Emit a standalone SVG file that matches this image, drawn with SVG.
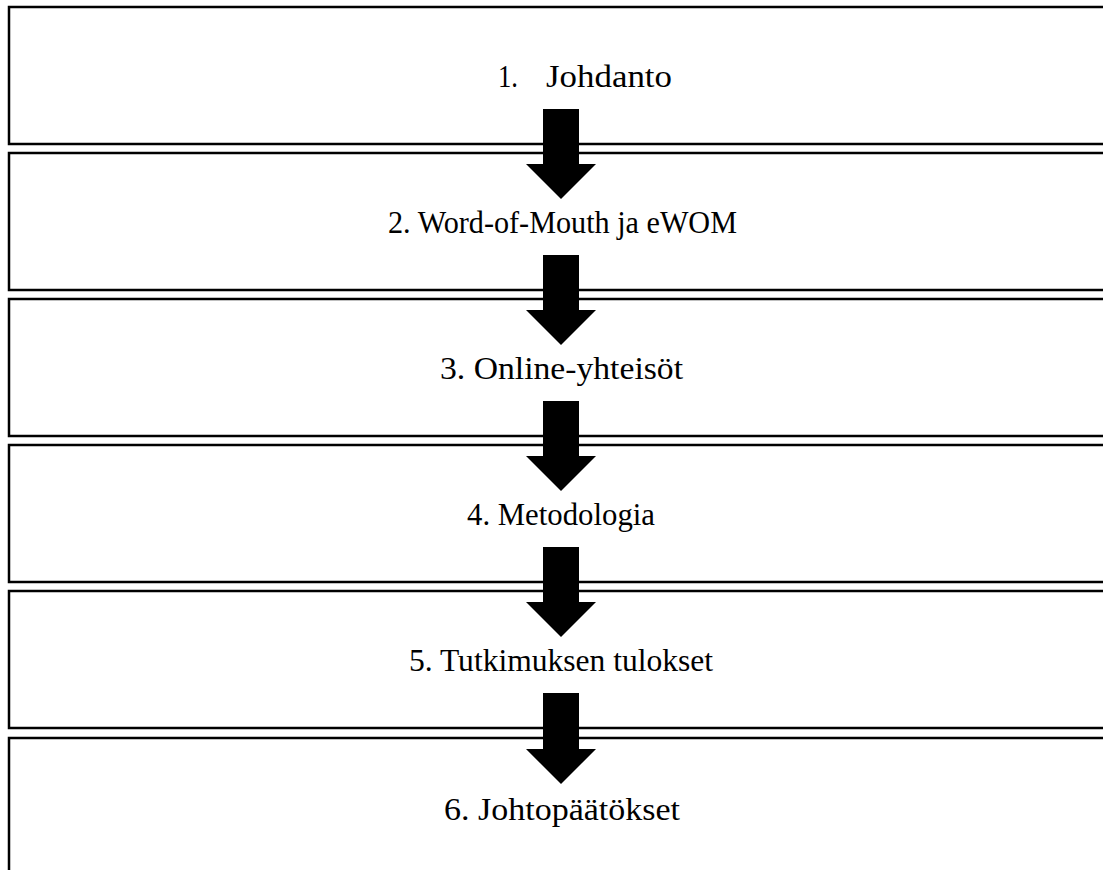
<svg xmlns="http://www.w3.org/2000/svg" width="1103" height="870" viewBox="0 0 1103 870">
<style>
.box{fill:#fff;stroke:#000;stroke-width:2.5}
.arrow{fill:#000}
.lbl{font-family:"Liberation Serif","DejaVu Serif",serif;font-size:31px;fill:#000}
</style>
<rect x="0" y="0" width="1103" height="870" fill="#fff"/>
<g id="node1"><rect class="box" x="9" y="7" width="1110" height="137"/>
<text class="lbl" y="87"><tspan x="498" textLength="20" lengthAdjust="spacingAndGlyphs">1.</tspan><tspan x="546" textLength="126" lengthAdjust="spacingAndGlyphs">Johdanto</tspan></text></g>
<g id="node2"><rect class="box" x="9" y="153" width="1110" height="137"/>
<text class="lbl" x="388" y="233" textLength="349" lengthAdjust="spacingAndGlyphs">2. Word-of-Mouth ja eWOM</text></g>
<g id="node3"><rect class="box" x="9" y="299" width="1110" height="137"/>
<text class="lbl" x="440" y="379" textLength="243" lengthAdjust="spacingAndGlyphs">3. Online-yhteisöt</text></g>
<g id="node4"><rect class="box" x="9" y="445" width="1110" height="137"/>
<text class="lbl" x="467" y="525" textLength="188" lengthAdjust="spacingAndGlyphs">4. Metodologia</text></g>
<g id="node5"><rect class="box" x="9" y="591" width="1110" height="137"/>
<text class="lbl" x="409" y="671" textLength="304" lengthAdjust="spacingAndGlyphs">5. Tutkimuksen tulokset</text></g>
<g id="node6"><rect class="box" x="9" y="738" width="1110" height="160"/>
<text class="lbl" x="444" y="820" textLength="236" lengthAdjust="spacingAndGlyphs">6. Johtopäätökset</text></g>
<g id="connectors">
<polygon class="arrow" points="543,109 579,109 579,164 596,164 561,199 526,164 543,164"/>
<polygon class="arrow" points="543,255 579,255 579,310 596,310 561,345 526,310 543,310"/>
<polygon class="arrow" points="543,401 579,401 579,456 596,456 561,491 526,456 543,456"/>
<polygon class="arrow" points="543,547 579,547 579,602 596,602 561,637 526,602 543,602"/>
<polygon class="arrow" points="543,693 579,693 579,749 596,749 561,784 526,749 543,749"/>
</g>
</svg>
